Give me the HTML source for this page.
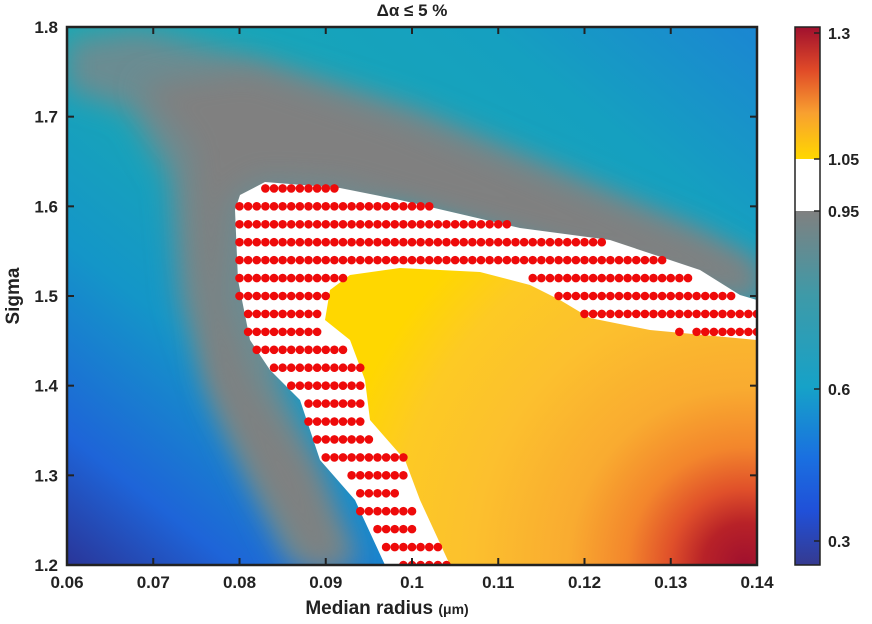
<!DOCTYPE html>
<html><head><meta charset="utf-8"><style>
body{margin:0;background:#fff;}
svg{display:block;font-family:"Liberation Sans",sans-serif;font-weight:bold;}
</style></head><body>
<svg id="chart" width="872" height="624">
<defs>
<linearGradient id="bg" x1="0" y1="1" x2="1" y2="0">
<stop offset="0" stop-color="#2a3598"/><stop offset="0.12" stop-color="#1e64d8"/><stop offset="0.3" stop-color="#1496c8"/><stop offset="0.5" stop-color="#19a8b4"/><stop offset="0.8" stop-color="#15a0c0"/><stop offset="1" stop-color="#1b86d2"/>
</linearGradient>
<radialGradient id="hot" gradientUnits="userSpaceOnUse" cx="745" cy="565" r="420">
<stop offset="0" stop-color="#a0102e"/><stop offset="0.1" stop-color="#b82228"/><stop offset="0.18" stop-color="#e0502a"/><stop offset="0.28" stop-color="#f3862c"/><stop offset="0.42" stop-color="#f9ab30"/><stop offset="0.65" stop-color="#fcc02e"/><stop offset="0.85" stop-color="#fdca24"/><stop offset="1" stop-color="#ffd700"/>
</radialGradient>
<linearGradient id="cb" x1="0" y1="0" x2="0" y2="1">
<stop offset="0" stop-color="#a0102e"/><stop offset="0.08" stop-color="#e04a28"/><stop offset="0.16" stop-color="#f8a030"/><stop offset="0.245" stop-color="#ffd700"/><stop offset="0.245" stop-color="#fff"/><stop offset="0.342" stop-color="#fff"/><stop offset="0.342" stop-color="#808080"/><stop offset="0.5" stop-color="#3e9aa8"/><stop offset="0.67" stop-color="#16a2c8"/><stop offset="0.8" stop-color="#1a70e0"/><stop offset="0.9" stop-color="#2050d8"/><stop offset="1" stop-color="#353a90"/>
</linearGradient>
<filter id="blur"><feGaussianBlur stdDeviation="14"/></filter>
<clipPath id="pa"><rect x="67" y="27" width="690" height="538"/></clipPath>
</defs>
<g clip-path="url(#pa)">
<rect x="67" y="27" width="690" height="538" fill="url(#bg)"/>
<path d="M67,40 L140,30 L260,60 L420,110 L560,170 L700,230 L757,262 L757,300 L400,200 L300,250 L280,380 L360,565 L290,565 L220,420 L180,300 L170,180 L130,110 L67,90Z" fill="#6a8c92" filter="url(#blur)"/>
<path d="M140,85 L250,70 L400,120 L550,180 L700,240 L757,270 L757,300 L340,185 L260,180 L230,200 L225,300 L250,380 L310,470 L345,565 L310,565 L260,480 L210,380 L195,260 L190,150Z" fill="#808080" filter="url(#blur)"/>
<path d="M265,182 L340,188 L400,200 L520,228 L610,240 L700,270 L740,295 L757,300 L757,565 L385,565 L355,500 L320,460 L300,400 L270,370 L250,340 L238,280 L235,210 L240,195Z" fill="#fff"/>
<path d="M450,565 L420,500 L405,460 L370,420 L365,380 L350,340 L325,320 L330,290 L350,275 L400,268 L480,272 L530,285 L560,300 L590,318 L650,330 L757,340 L757,565Z" fill="url(#hot)"/>
<g id="dots"></g>
</g>
<rect x="67" y="27" width="690" height="538" fill="none" stroke="#222" stroke-width="2.5"/>
<g id="axes"></g>
<text x="412" y="16" text-anchor="middle" font-size="17" fill="#222">Δα ≤ 5  %</text>
<text x="387" y="614" text-anchor="middle" font-size="19" fill="#222">Median radius <tspan font-size="14">(μm)</tspan></text>
<text transform="translate(19,296) rotate(-90)" text-anchor="middle" font-size="19" fill="#222">Sigma</text>
<rect x="795" y="27" width="25" height="538" fill="url(#cb)" stroke="#222" stroke-width="1.5"/>
<g id="cbt"></g>
</svg>
<script>
const xTicks=[0.06,0.07,0.08,0.09,0.1,0.11,0.12,0.13,0.14];
const yTicks=[1.2,1.3,1.4,1.5,1.6,1.7,1.8];
const cbLabels=["1.3","1.05","0.95","0.6","0.3"];
const cbPos=[33,159,211,389,541];
const rowSigma=[1.62,1.60,1.58,1.56,1.54,1.52,1.50,1.48,1.46,1.44,1.42,1.40,1.38,1.36,1.34,1.32,1.30,1.28,1.26,1.24,1.22,1.20];
const rowSegments=[[[83,91]],[[80,102]],[[80,111]],[[80,122]],[[80,129]],[[80,92],[114,132]],[[80,90],[117,137]],[[81,89],[120,140]],[[81,89],[131,131],[133,140]],[[82,92]],[[84,94]],[[86,94]],[[88,94]],[[88,94]],[[89,95]],[[90,99]],[[93,99]],[[94,98]],[[94,100]],[[96,100]],[[97,103]],[[99,104]]];
const NS="http://www.w3.org/2000/svg";
const X=v=>67+(v-0.06)/0.08*690;
const Y=v=>565-(v-1.2)/0.6*538;
const dots=document.getElementById('dots');
rowSigma.forEach((s,i)=>{rowSegments[i].forEach(seg=>{for(let k=seg[0];k<=seg[1];k++){
 const c=document.createElementNS(NS,'circle');
 c.setAttribute('cx',X(k/1000));c.setAttribute('cy',Y(s));c.setAttribute('r',4.3);c.setAttribute('fill','#ee0a0a');
 
 
 dots.appendChild(c);}});});
const ax=document.getElementById('axes');
function add(tag,attrs,txt){const e=document.createElementNS(NS,tag);for(const k in attrs)e.setAttribute(k,attrs[k]);if(txt!=null)e.textContent=txt;ax.appendChild(e);return e;}
xTicks.forEach(v=>{const x=X(v);
 add('line',{x1:x,x2:x,y1:565,y2:558,stroke:'#222','stroke-width':2});
 add('line',{x1:x,x2:x,y1:27,y2:34,stroke:'#222','stroke-width':2});
 const t=add('text',{x:x,y:588,'text-anchor':'middle','font-size':17,fill:'#222'},String(v));
 
 });
yTicks.forEach(v=>{const y=Y(v);
 add('line',{x1:67,x2:74,y1:y,y2:y,stroke:'#222','stroke-width':2});
 add('line',{x1:757,x2:750,y1:y,y2:y,stroke:'#222','stroke-width':2});
 const t=add('text',{x:58,y:y+6,'text-anchor':'end','font-size':17,fill:'#222'},v.toFixed(1));
 
 });
const cbt=document.getElementById('cbt');
cbLabels.forEach((l,i)=>{const y=cbPos[i];
 const ln=document.createElementNS(NS,'line');ln.setAttribute('x1',814);ln.setAttribute('x2',820);ln.setAttribute('y1',y);ln.setAttribute('y2',y);ln.setAttribute('stroke','#222');ln.setAttribute('stroke-width',1.5);cbt.appendChild(ln);
 const t=document.createElementNS(NS,'text');t.setAttribute('x',828);t.setAttribute('y',y+6);t.setAttribute('font-size',16);t.setAttribute('fill','#222');t.textContent=l;
 
 
 cbt.appendChild(t);});
</script>
</body></html>
